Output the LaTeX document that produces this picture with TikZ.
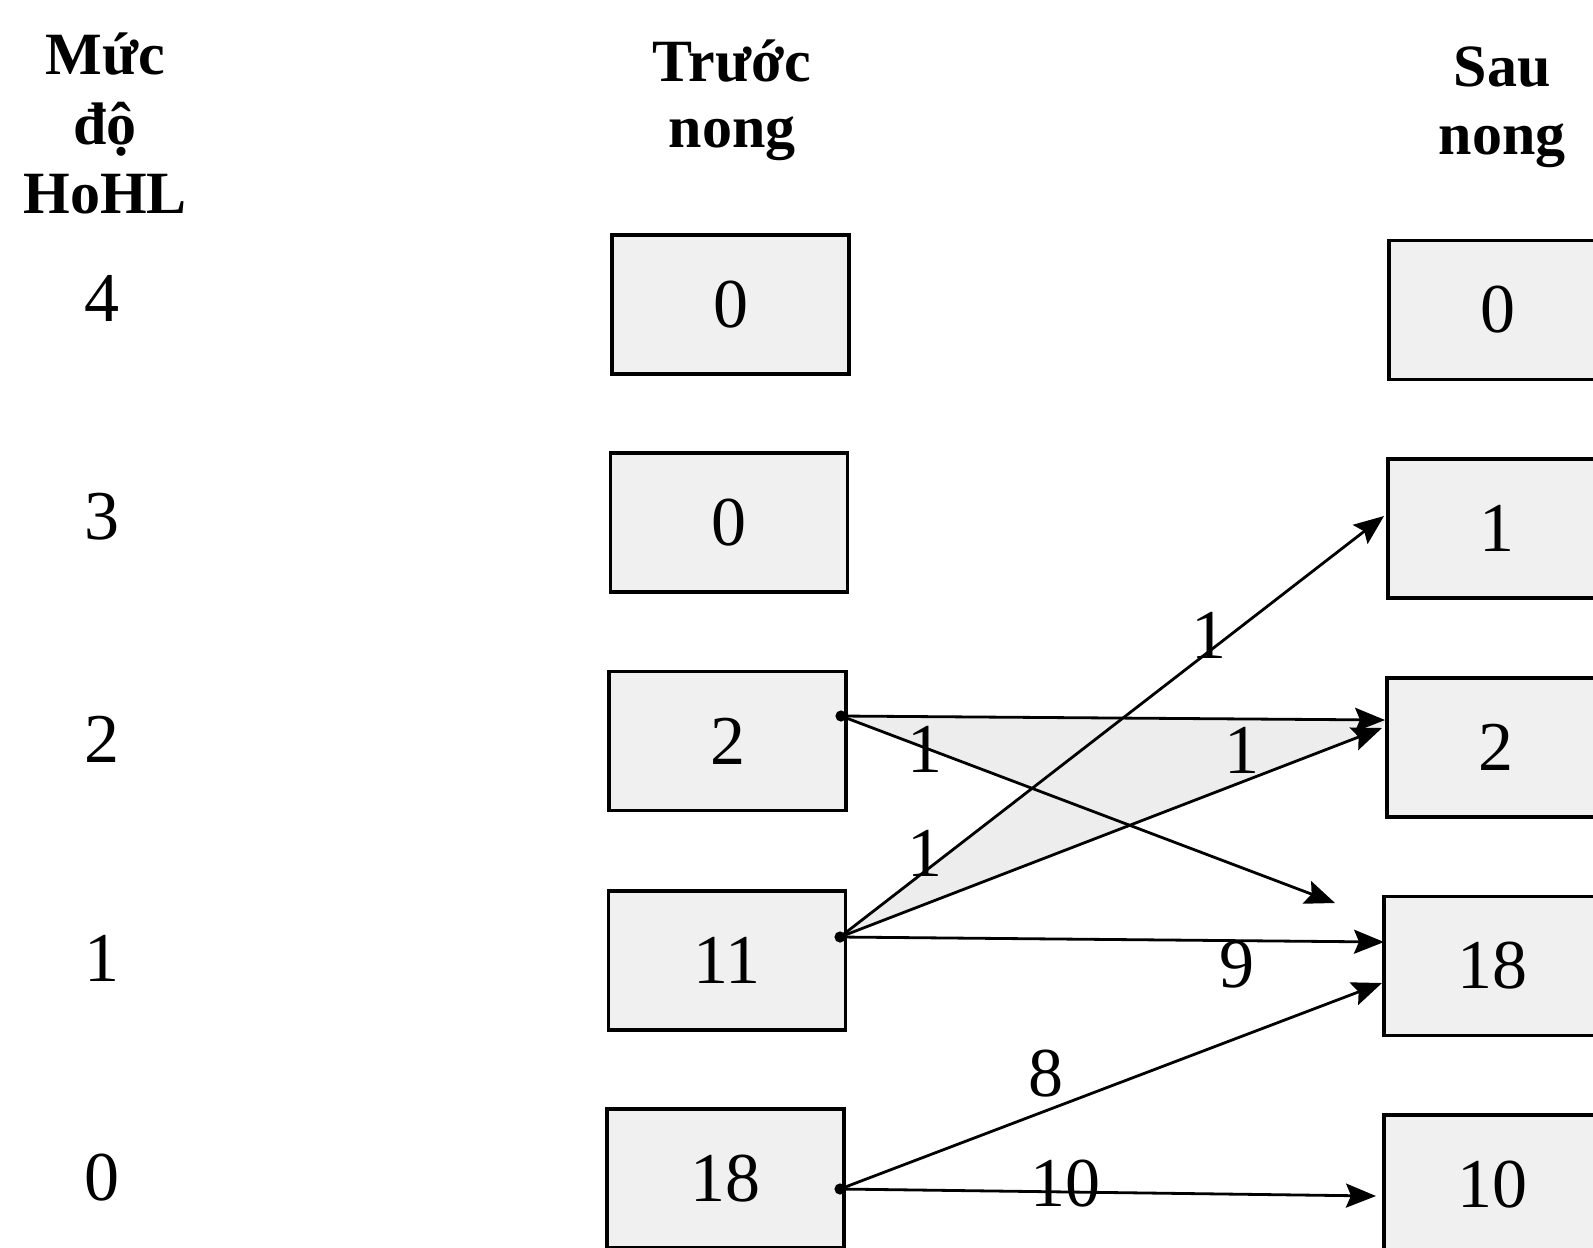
\documentclass[tikz,border=0pt]{standalone}
\usepackage{fontspec}
\setmainfont{Liberation Serif}
\usetikzlibrary{arrows.meta}
\newcommand{\dgfont}{\fontsize{35pt}{40pt}\selectfont}
\newcommand{\hdfont}{\fontsize{30pt}{34pt}\selectfont\bfseries}
\begin{document}
\begin{tikzpicture}[x=0.5pt,y=-0.5pt,
  box/.style={draw=black, line width=1.8pt, fill=black!6, minimum width=118.5pt,
    minimum height=69.5pt, inner sep=0pt, font=\dgfont},
  lvl/.style={font=\dgfont, inner sep=0pt},
  head/.style={font=\hdfont, inner sep=0pt, anchor=base},
  lab/.style={font=\dgfont, inner sep=0pt},
  arr/.style={line width=1.4pt, -{Stealth[length=15pt,width=12pt,inset=2.5pt]}},
  dot/.style={fill=black}
]
\useasboundingbox (0,0) rectangle (1593,1247);
\clip (0,0) rectangle (1593,1247);
\fill[white] (0,0) rectangle (1593,1247);

% headings
\node[head] (h1a) at (105,75) {Mức};
\node[head] (h1b) at (105,144) {độ};
\node[head] (h1c) at (105,213) {HoHL};
\node[head] (h2a) at (732,82) {Trước};
\node[head] (h2b) at (732,148) {nong};
\node[head] (h3a) at (1502,87) {Sau};
\node[head] (h3b) at (1502,155) {nong};

% level numbers
\node[lvl] (lv4) at (102,298) {4};
\node[lvl] (lv3) at (102,517) {3};
\node[lvl] (lv2) at (102,739) {2};
\node[lvl] (lv1) at (102,958) {1};
\node[lvl] (lv0) at (102,1178) {0};

% connector coordinates
\coordinate (s2) at (841,716);
\coordinate (s1) at (840,937);
\coordinate (s0) at (840,1189);
\coordinate (e22) at (1385,720);
\coordinate (e21) at (1335,903);
\coordinate (e13) at (1384,516);
\coordinate (e12) at (1382,728);
\coordinate (e11) at (1384,942);
\coordinate (e01) at (1382,983);
\coordinate (e00) at (1376,1196);
\coordinate (xc) at (1032,788.5);

% shaded area
\fill[black!7] (s2) -- (e22) -- (e12) -- (s1) -- (xc) -- cycle;

% boxes before
\node[box] (b4) at (730.5,304.5) {0};
\node[box] (b3) at (729,522.5) {0};
\node[box] (b2) at (727.5,741) {2};
\node[box] (b1) at (727,960.5) {11};
\node[box] (b0) at (725.5,1178.5) {18};

% boxes after
\node[box] (a4) at (1507.5,310) {\hspace*{-10pt}0};
\node[box] (a3) at (1506.5,528.5) {\hspace*{-10pt}1};
\node[box] (a2) at (1505.5,747.5) {\hspace*{-10pt}2};
\node[box] (a1) at (1502.5,966) {\hspace*{-10pt}18};
\node[box] (a0) at (1502.5,1184.5) {\hspace*{-10pt}10};

% arrows
\draw[arr] (s2) -- (e22);
\draw[arr] (s2) -- (e21);
\draw[arr] (s1) -- (e13);
\draw[arr] (s1) -- (e12);
\draw[arr] (s1) -- (e11);
\draw[arr] (s0) -- (e01);
\draw[arr] (s0) -- (e00);
\fill[dot] (s2) circle (2.8pt);
\fill[dot] (s1) circle (2.8pt);
\fill[dot] (s0) circle (2.8pt);

% labels
\node[lab] (l1) at (925,749) {1};
\node[lab] (l2) at (1242,750) {1};
\node[lab] (l3) at (925,853) {1};
\node[lab] (l4) at (1209,635) {1};
\node[lab] (l5) at (1237,965) {9};
\node[lab] (l6) at (1046,1074) {8};
\node[lab] (l7) at (1065,1184) {10};
\end{tikzpicture}
\end{document}
